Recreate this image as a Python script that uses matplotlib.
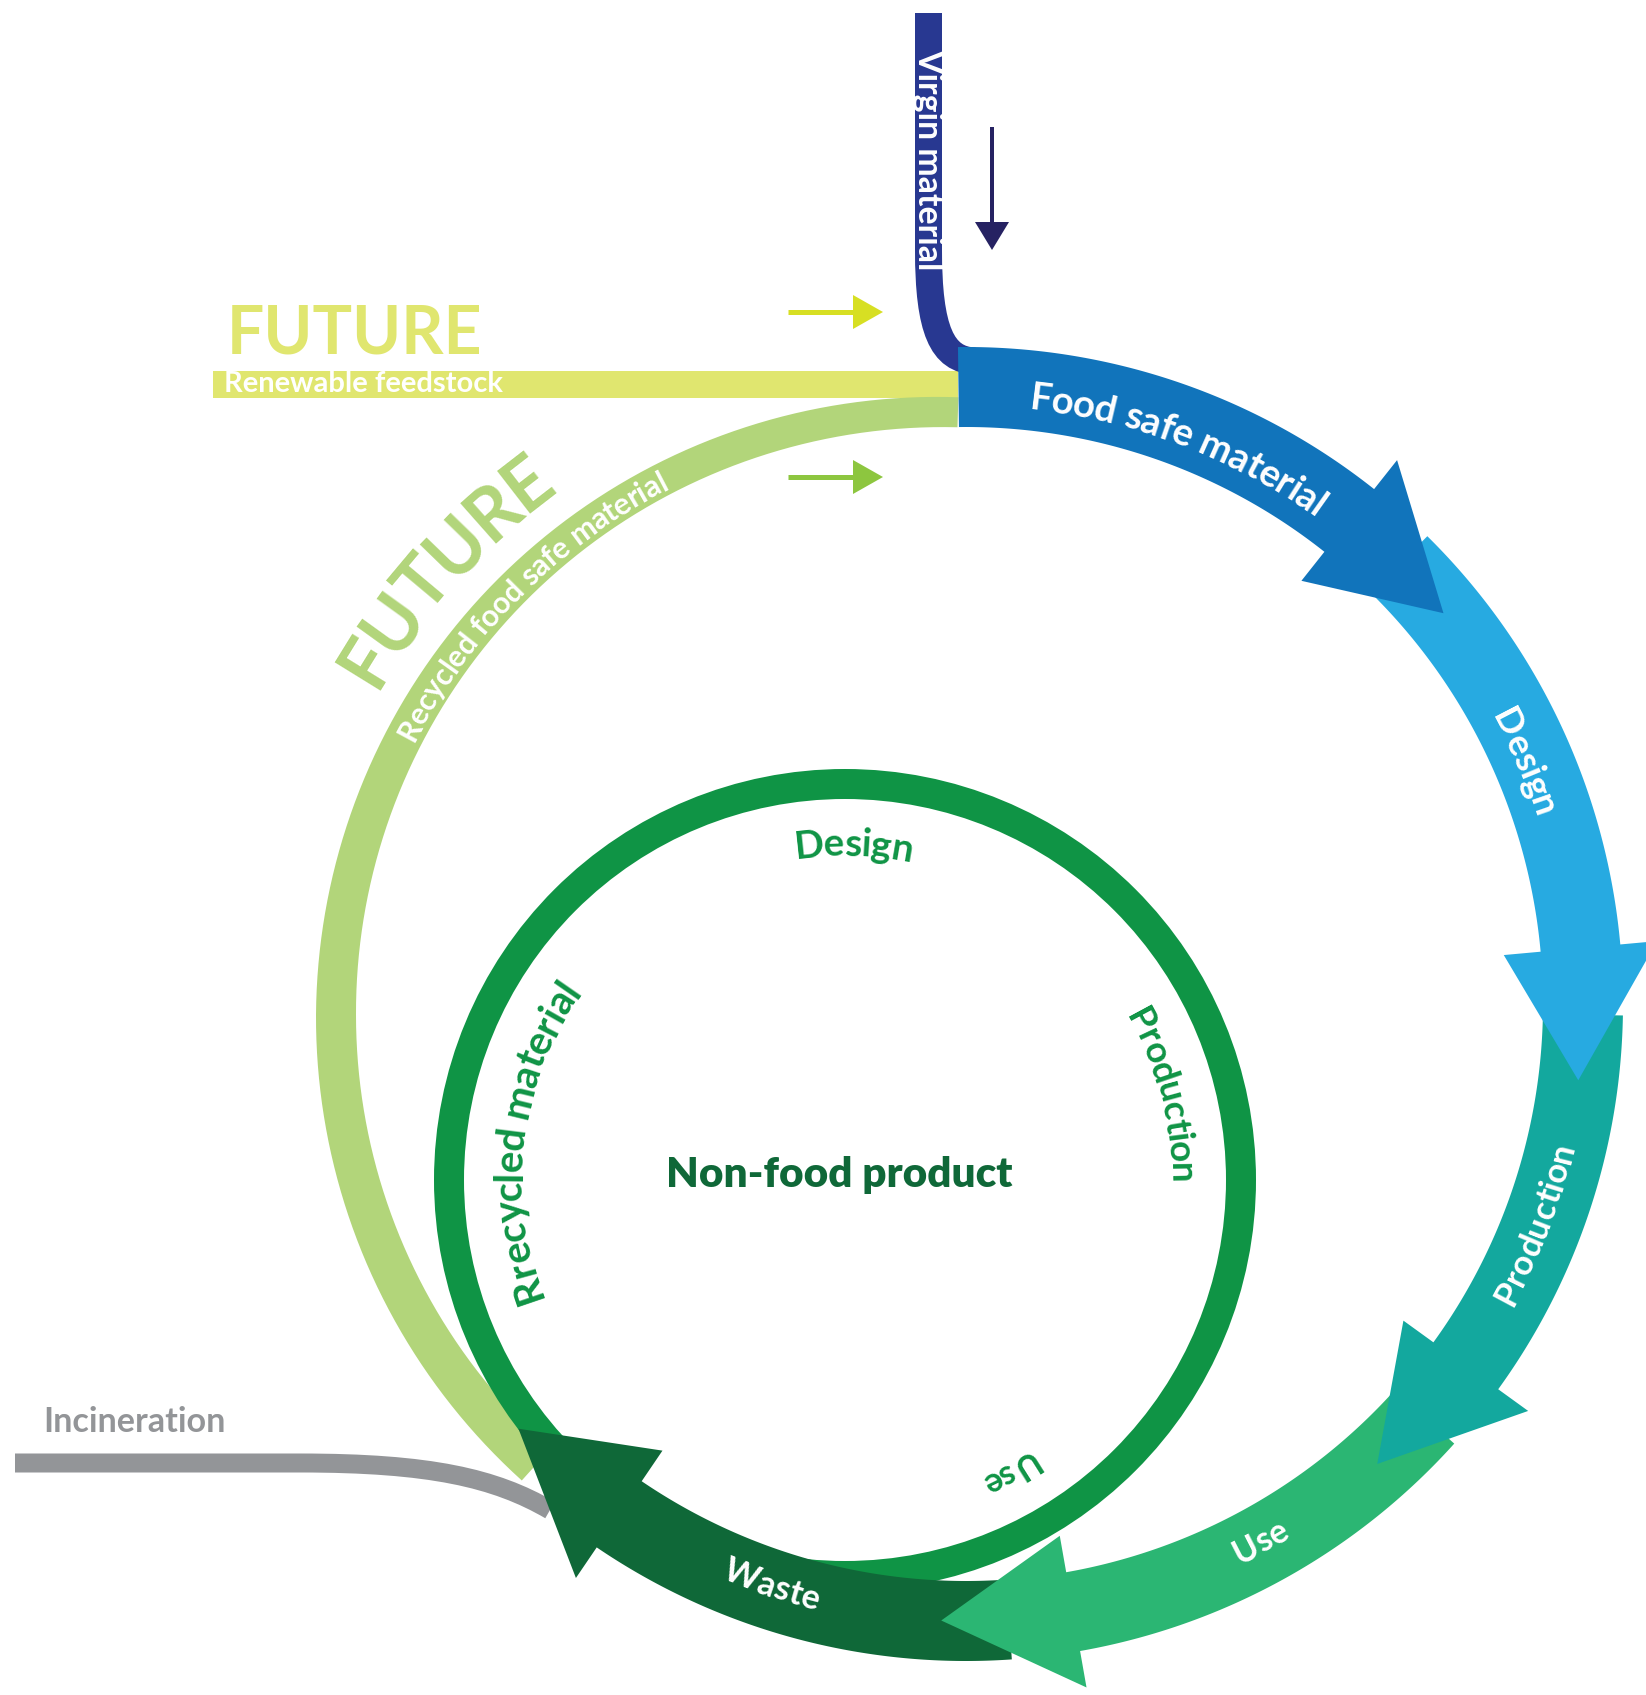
import numpy as np
import matplotlib
matplotlib.use('Agg')
import matplotlib.pyplot as plt
from matplotlib.patches import Polygon, Rectangle, PathPatch, Circle
from matplotlib.path import Path
from matplotlib.font_manager import FontProperties

W, H, DPI = 1646, 1695, 100
PX = 72 / DPI            # points per pixel
FONT = ['Lato', 'DejaVu Sans']
NARROW = ['Liberation Sans Narrow', 'Lato', 'DejaVu Sans']

# ---- diagram content ----
stage_labels = ['Food safe material', 'Design', 'Production', 'Use', 'Waste']
stage_colors = ['#1174BB', '#27AAE1', '#13A89E', '#2BB673', '#0F6838']
stage_start = [-0.7, 44.6, 91.0, 132.0, 176.0]      # degrees, clockwise from top
stage_tip = [50.7, 97.1, 138.2, 182.3, 226.5]
stage_label_mid = [20.9, 66.6, 111.1, 151.3, 198.5]
stage_label_len = [318, 113, 172, 58, 100]
stage_label_cw = [True, True, False, False, False]

inner_labels = ['Design', 'Production', 'Use', 'Rrecycled material']
inner_label_mid = [1.5, 75.1, 150.6, 277.3]
inner_label_len = [119, 182, 58, 336]

# geometry (pixels)
CX, CY, R, HW = 966, 1004, 617, 40       # outer spiral band
HEAD_HW, HEAD_DEG = 77, 12.3
GX, GY, GR = 940, 1016, 604              # light green future loop
IX, IY, IR = 845, 1180, 396              # inner ring

fig = plt.figure(figsize=(W / DPI, H / DPI), dpi=DPI)
ax = fig.add_axes([0, 0, 1, 1])
ax.set_xlim(0, W)
ax.set_ylim(H, 0)
ax.axis('off')
renderer = fig.canvas.get_renderer()


def text_w(s, fp):
    return renderer.get_text_width_height_descent(s, fp, ismath=False)[0]


def fit_font(s, length, weight='bold', family=FONT):
    fp = FontProperties(family=family, weight=weight, size=10)
    return FontProperties(family=family, weight=weight, size=10 * length / text_w(s, fp))


def pol(cx, cy, r, th):
    t = np.radians(th)
    return cx + r * np.sin(t), cy - r * np.cos(t)


def arc_text(s, cx, cy, r_mid, th_mid, length, color, cw=True, weight='bold', family=FONT):
    fp = fit_font(s, length, weight, family)
    total = text_w(s, fp)
    cap = fp.get_size()  # cap height in px ~ size in pt at 100 dpi
    r_b = r_mid - cap / 2 if cw else r_mid + cap / 2
    for k, ch in enumerate(s):
        if ch == ' ':
            continue
        c = text_w(s[:k + 1], fp) - text_w(ch, fp) / 2
        off = np.degrees((c - total / 2) / r_mid)
        th = th_mid + off if cw else th_mid - off
        x, y = pol(cx, cy, r_b, th)
        rot = -th if cw else 180 - th
        ax.text(x, y, ch, fontproperties=fp, color=color, rotation=rot,
                rotation_mode='anchor', ha='center', va='baseline', zorder=20)


def band(cx, cy, r, hw, t0, t1, n=120):
    ts = np.linspace(t0, t1, n)
    hws = hw(ts) if callable(hw) else np.full(n, hw)
    outer = [pol(cx, cy, r + h, t) for t, h in zip(ts, hws)]
    inner = [pol(cx, cy, r - h, t) for t, h in zip(ts, hws)][::-1]
    return outer, inner


# incineration outlet
gray = Path([(15, 1463), (300, 1463), (430, 1463), (495, 1478), (550, 1510)],
            [Path.MOVETO, Path.LINETO, Path.CURVE4, Path.CURVE4, Path.CURVE4])
ax.add_patch(PathPatch(gray, fc='none', ec='#939598', lw=19 * PX, capstyle='butt', zorder=2))

# renewable feedstock bar
ax.add_patch(Rectangle((213, 371), 958 - 213, 27, fc='#E0E66F', ec='none', zorder=2))

# light green future loop (widens slightly towards the bottom)
o, i = band(GX, GY, GR, lambda t: np.interp(t, [-138, -90, 1.7], [21, 20, 15]), -138, 1.7)
ax.add_patch(Polygon(o + i, closed=True, fc='#B2D57A', ec='none', zorder=3))

# inner ring
ax.add_patch(Circle((IX, IY), IR, fill=False, ec='#0F9445', lw=30 * PX, zorder=4))

# virgin material inlet
virgin = Path([(928.5, 13), (928.5, 250), (928.5, 330), (942, 360), (975, 361)],
              [Path.MOVETO, Path.LINETO, Path.CURVE4, Path.CURVE4, Path.CURVE4])
ax.add_patch(PathPatch(virgin, fc='none', ec='#283891', lw=27 * PX, capstyle='butt', zorder=5))

# outer spiral stages with arrow heads
for k in range(len(stage_labels)):
    tb = stage_tip[k] - HEAD_DEG
    o, i = band(CX, CY, R, HW, stage_start[k], tb)
    head = [pol(CX, CY, R + HEAD_HW, tb), pol(CX, CY, R, stage_tip[k]), pol(CX, CY, R - HEAD_HW, tb)]
    ax.add_patch(Polygon(o + head + i, closed=True, fc=stage_colors[k], ec='none', zorder=10 - k))
    arc_text(stage_labels[k], CX, CY, R - 5, stage_label_mid[k], stage_label_len[k], 'white',
             cw=stage_label_cw[k])

# inner ring labels
for k in range(len(inner_labels)):
    arc_text(inner_labels[k], IX, IY, 338, inner_label_mid[k], inner_label_len[k], '#0F9445')

ax.text(839, 1175, 'Non-food product', fontproperties=fit_font('Non-food product', 348, 'heavy'),
        color='#0F6838', ha='center', va='center', zorder=20)

# future loop labels
arc_text('FUTURE', GX, GY, 678, -48, 286, '#B2D57A')
arc_text('Recycled food safe material', GX, GY, GR, -44.85, 375, 'white')

ax.text(227, 354, 'FUTURE', fontproperties=fit_font('FUTURE', 256, family=NARROW),
        color='#E0E66F', ha='left', va='baseline', zorder=20)
ax.text(224, 392, 'Renewable feedstock', fontproperties=fit_font('Renewable feedstock', 280),
        color='white', ha='left', va='baseline', zorder=20)

ax.text(928.5, 160, 'Virgin material', fontproperties=fit_font('Virgin material', 221),
        color='white', rotation=-90, ha='center', va='center', zorder=20)

ax.text(43, 1432, 'Incineration', fontproperties=fit_font('Incineration', 183),
        color='#939598', ha='left', va='baseline', zorder=20)

# small direction arrows
ax.plot([992, 992], [127, 224], color='#262262', lw=4 * PX, solid_capstyle='butt', zorder=6)
ax.add_patch(Polygon([(975, 222), (1009, 222), (992, 250)], fc='#262262', ec='none', zorder=6))
for y, c in [(312, '#D7DF23'), (477, '#8DC63F')]:
    ax.plot([788, 855], [y, y], color=c, lw=5 * PX, solid_capstyle='butt', zorder=6)
    ax.add_patch(Polygon([(853, y - 17), (853, y + 17), (883, y)], fc=c, ec='none', zorder=6))

fig.savefig('out.png', dpi=DPI, facecolor='white')
